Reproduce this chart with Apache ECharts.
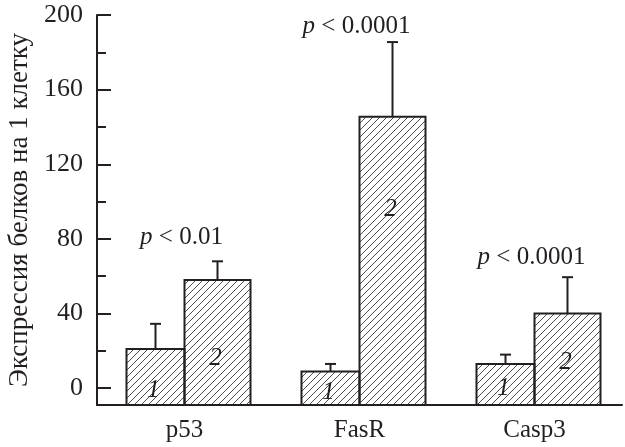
<!DOCTYPE html>
<html>
<head>
<meta charset="utf-8">
<script src="https://cdn.jsdelivr.net/npm/echarts@6/dist/echarts.min.js"></script>
<style>
  html, body { margin: 0; padding: 0; background: #fff; }
  #chart { width: 625px; height: 447px; }
</style>
</head>
<body>
<div id="chart"></div>
<script>
// data
const categories = ["p53", "FasR", "Casp3"];
const group1 = [21, 9, 13];
const group1Err = [13.5, 4, 5];
const group2 = [58, 145.5, 40];
const group2Err = [10, 40, 19.5];
const pLabels = ["p < 0.01", "p < 0.0001", "p < 0.0001"];
const pLabelAt = [81, 194, 70];
const num1At = [-1, -2, 0];
const num2At = [16, 96, 14];
const yTicks = [0, 40, 80, 120, 160, 200];
const yMinorTicks = [20, 60, 100, 140, 180];
const Y_MIN = -9;
const Y_MAX = 200;

const INK = "#231f20";
const FONT = "Liberation Serif";

// diagonal hatch fill
function hatch() {
  const c = document.createElement("canvas");
  c.width = c.height = 7;
  const ctx = c.getContext("2d");
  ctx.strokeStyle = "#3a3a3a";
  ctx.lineWidth = 0.9;
  ctx.beginPath();
  ctx.moveTo(0, 7); ctx.lineTo(7, 0);
  ctx.moveTo(-1, 1); ctx.lineTo(1, -1);
  ctx.moveTo(6, 8); ctx.lineTo(8, 6);
  ctx.stroke();
  return c;
}
const pattern = { image: hatch(), repeat: "repeat" };

function barRenderer(left, width, label) {
  return function (params, api) {
    const i = api.value(0), v = api.value(1), e = api.value(2), at = api.value(3);
    const base = api.coord([i, Y_MIN]);
    const top = api.coord([i, v]);
    const errTop = api.coord([i, v + e]);
    const x0 = left ? base[0] - width : base[0];
    const xm = x0 + width / 2;
    const numPos = api.coord([i, at]);
    return {
      type: "group",
      children: [
        { type: "line", shape: { x1: xm, y1: top[1], x2: xm, y2: errTop[1] },
          style: { stroke: INK, lineWidth: 2 } },
        { type: "line", shape: { x1: xm - 5.5, y1: errTop[1], x2: xm + 5.5, y2: errTop[1] },
          style: { stroke: INK, lineWidth: 2 } },
        { type: "rect", shape: { x: x0, y: top[1], width: width, height: base[1] - top[1] },
          style: { fill: pattern, stroke: INK, lineWidth: 2 } },
        { type: "text", x: xm - 2, y: numPos[1],
          style: { text: label, fill: INK, fontSize: 25, fontStyle: "italic", fontFamily: FONT,
                   align: "center", verticalAlign: "middle" } }
      ]
    };
  };
}

function pRenderer(params, api) {
  const i = api.value(0), at = api.value(1);
  const pos = api.coord([i, at]);
  const txt = pLabels[params.dataIndex].replace(/^p/, "{p|p}");
  return {
    type: "text", x: pos[0] - 3, y: pos[1],
    style: {
      text: txt, fill: INK, fontSize: 25, fontFamily: FONT,
      align: "center", verticalAlign: "middle",
      rich: { p: { fontStyle: "italic", fontSize: 25, fontFamily: FONT, fill: INK } }
    }
  };
}

const chart = echarts.init(document.getElementById("chart"), null, { renderer: "canvas" });

chart.setOption({
  backgroundColor: "#fff",
  animation: false,
  grid: { left: 97, right: 3, top: 15, bottom: 42, containLabel: false, outerBoundsMode: "none" },
  xAxis: {
    type: "category",
    data: categories,
    axisLine: { onZero: false, lineStyle: { color: INK, width: 2 } },
    axisTick: { show: false },
    axisLabel: { color: INK, fontSize: 25, fontFamily: FONT, margin: 13 }
  },
  yAxis: [
    {
      type: "value",
      min: Y_MIN,
      max: Y_MAX,
      position: "left",
      name: "Экспрессия белков на 1 клетку",
      nameLocation: "middle",
      nameGap: 64,
      nameMoveOverlap: false,
      nameTextStyle: { color: INK, fontSize: 27, fontFamily: FONT },
      axisLine: { show: true, lineStyle: { color: INK, width: 2 } },
      axisTick: { show: true, inside: true, length: 14, customValues: yTicks,
                  lineStyle: { color: INK, width: 2 } },
      axisLabel: { color: INK, fontSize: 26, fontFamily: FONT, margin: 14, customValues: yTicks },
      splitLine: { show: false }
    },
    {
      type: "value",
      min: Y_MIN,
      max: Y_MAX,
      position: "left",
      offset: 0,
      axisLine: { show: false },
      axisTick: { show: true, inside: true, length: 9, customValues: yMinorTicks,
                  lineStyle: { color: INK, width: 2 } },
      axisLabel: { show: false },
      splitLine: { show: false }
    }
  ],
  series: [
    {
      type: "custom",
      renderItem: barRenderer(true, 58, "1"),
      data: categories.map((c, i) => [i, group1[i], group1Err[i], num1At[i]])
    },
    {
      type: "custom",
      renderItem: barRenderer(false, 66, "2"),
      data: categories.map((c, i) => [i, group2[i], group2Err[i], num2At[i]])
    },
    {
      type: "custom",
      renderItem: pRenderer,
      data: categories.map((c, i) => [i, pLabelAt[i]])
    }
  ]
});
</script>
</body>
</html>
